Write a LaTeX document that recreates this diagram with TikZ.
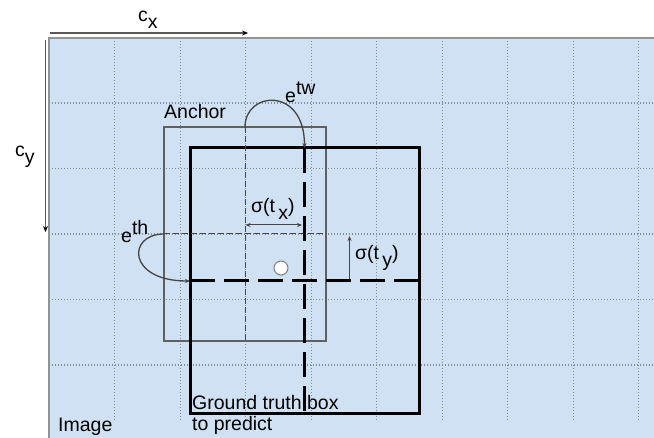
\documentclass[tikz,border=0pt]{standalone}
\usepackage{fontspec}
\setmainfont{Liberation Sans}
\usetikzlibrary{arrows.meta}
\definecolor{imgblue}{HTML}{CFE1F2}
\definecolor{griddot}{HTML}{7E8E9F}
\definecolor{arcgray}{HTML}{454545}
\newcommand{\lowr}[1]{\raisebox{-0.35em}{#1}}
\newcommand{\highr}[1]{\raisebox{0.45em}{#1}}
\begin{document}
\begin{tikzpicture}[x=1pt, y=-1pt, font=\fontsize{19.5}{21}\selectfont,
  gridline/.style={griddot, line width=1.3pt, dash pattern=on 1.3pt off 1.7pt},
  thindash/.style={arcgray, line width=1pt, dash pattern=on 6pt off 3pt},
  thickdash/.style={black, line width=3pt, dash pattern=on 25pt off 9pt},
  curvearrow/.style={arcgray, line width=1.3pt, -{Stealth[length=5pt,width=4pt]}},
  lbl/.style={inner sep=0pt, anchor=base west}]
\useasboundingbox (0,0) rectangle (654,438);
% image area with its grid
\fill[imgblue] (48,38) rectangle (654,438);
\foreach \i in {1,...,9}
  \draw[gridline] (49.3+65.5*\i,38) -- (49.3+65.5*\i,420);
\foreach \j in {1,...,5}
  \draw[gridline] (49,37.6+65.5*\j) -- (654,37.6+65.5*\j);
\draw[gray!85, line width=2pt] (48.5,438) -- (48.5,38) -- (654,38);
% offset arrows
\coordinate (cx0) at (50,33);
\coordinate (cx1) at (248,33);
\coordinate (cy0) at (45.5,40);
\coordinate (cy1) at (45.5,232);
\draw[gray!70!black, line width=2.2pt, -{Stealth[length=6pt,width=5pt,color=black]}] (cx0) -- (cx1);
\draw[gray!70!black, line width=1.8pt, -{Stealth[length=6pt,width=5pt,color=black]}] (cy0) -- (cy1);
\node[lbl] (cxlbl) at (138,22) {c\lowr{x}};
\node[lbl] (cylbl) at (15,157) {c\lowr{y}};
% anchor and ground truth boxes
\node[draw=gray!75!black, line width=1.3pt, minimum width=162pt, minimum height=214pt, outer sep=0pt] (anchorbox) at (245,234) {};
\node[draw=black, line width=3pt, minimum width=229pt, minimum height=266pt, outer sep=0pt] (gtbox) at (304.5,281) {};
\draw[thindash] (anchorbox.north) -- (anchorbox.south);
\draw[thindash] (anchorbox.west) -- (anchorbox.east);
\draw[thickdash] (gtbox.north) -- (gtbox.south);
\draw[thickdash] (gtbox.west) -- (gtbox.east);
% width / height scaling arcs
\draw[curvearrow] (anchorbox.north) .. controls +(0,-36) and +(0,-62) .. (gtbox.north);
\draw[curvearrow] (anchorbox.west) .. controls +(-37,0) and +(-63,0) .. (gtbox.west);
\node[lbl] (ewlbl) at (285,103) {e\highr{tw}};
\node[lbl] (ehlbl) at (121,243) {e\highr{th}};
% offsets
\coordinate (tx0) at (245.5,225);
\coordinate (tx1) at (302,225);
\coordinate (ty0) at (349.5,281);
\coordinate (ty1) at (349.5,236);
\draw[arcgray, line width=1pt, {Stealth[length=5pt,width=4pt]}-{Stealth[length=5pt,width=4pt]}] (tx0) -- (tx1);
\draw[arcgray, line width=1.2pt, -{Stealth[length=5pt,width=4pt]}] (ty0) -- (ty1);
\draw[black, line width=3pt] (327,281) -- (ty0);
\node[lbl] (txlbl) at (251,213) {σ(t\,\lowr{x})};
\node[lbl] (tylbl) at (355,260) {σ(t\,\lowr{y})};
\node[circle, draw=gray, fill=white, line width=1pt, minimum size=14pt, inner sep=0pt] (ctr) at (281,268) {};
% texts
\node[lbl] (anclbl) at (164,119) {Anchor};
\node[lbl] (imglbl) at (58,432) {Image};
\node[inner sep=0pt, anchor=north west, align=left] (gtlbl) at (192,395) {Ground truth box\\to predict};
\end{tikzpicture}
\end{document}
